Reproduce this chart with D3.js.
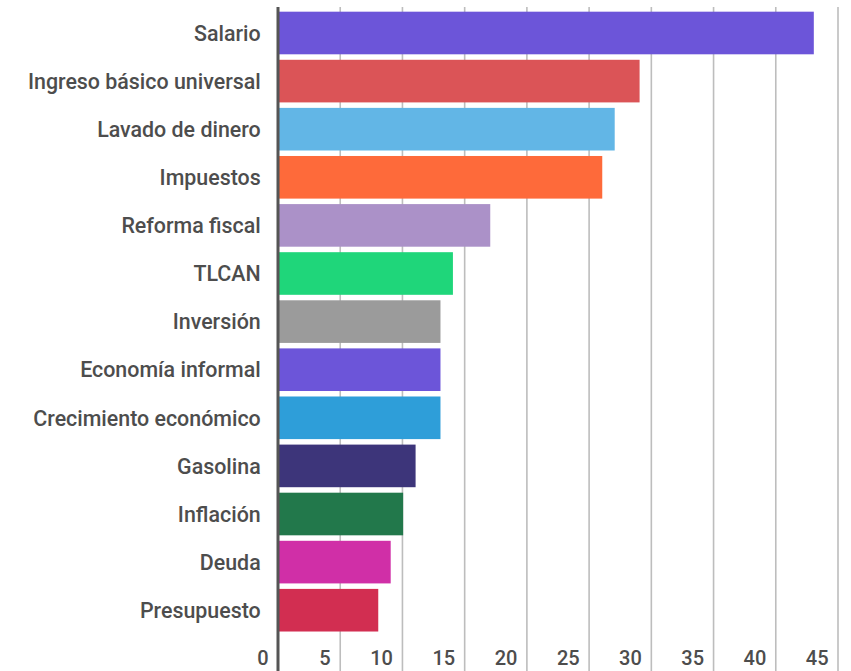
<!DOCTYPE html>
<html><head><meta charset="utf-8">
<script src="https://cdn.jsdelivr.net/npm/d3@7"></script>
<style>
html,body{margin:0;padding:0;background:#fff;}
svg{display:block;}
text{font-family:Roboto,"Noto Sans",sans-serif;}
</style></head>
<body>
<script>
const categories = ["Salario","Ingreso básico universal","Lavado de dinero","Impuestos","Reforma fiscal","TLCAN","Inversión","Economía informal","Crecimiento económico","Gasolina","Inflación","Deuda","Presupuesto"];
const values = [43,29,27,26,17,14,13,13,13,11,10,9,8];
const colors = ["#6c55d9","#db5457","#62b6e6","#fe6a3a","#ab91c8","#1fd67a","#9b9b9b","#6c55d9","#2e9ed9","#3d357a","#22784b","#d02fa7","#d22e51"];
const tickValues = [0,5,10,15,20,25,30,35,40,45];

const W = 851, H = 671;
const svg = d3.select("body").append("svg").attr("width", W).attr("height", H);

const x = d3.scaleLinear().domain([0,45]).range([278, 838]);
const y = d3.scaleBand().domain(categories).range([8.8, 634.4]).paddingInner(0.114).paddingOuter(0.06);

// grid lines
svg.append("g").selectAll("line").data(tickValues.slice(1)).join("line")
  .attr("x1", d => x(d)).attr("x2", d => x(d))
  .attr("y1", 7).attr("y2", H)
  .attr("stroke", "#bdbdbd").attr("stroke-width", 1.6);

// bars
svg.append("g").selectAll("rect").data(categories).join("rect")
  .attr("x", x(0))
  .attr("y", d => y(d))
  .attr("width", (d,i) => x(values[i]) - x(0) + 0.7)
  .attr("height", y.bandwidth())
  .attr("fill", (d,i) => colors[i]);

// axis line
svg.append("line").attr("x1", x(0)).attr("x2", x(0)).attr("y1", 7).attr("y2", H)
  .attr("stroke", "#555").attr("stroke-width", 3);

// category labels
svg.append("g").selectAll("text").data(categories).join("text")
  .attr("x", 260.7)
  .attr("y", d => y(d) + y.bandwidth()/2)
  .attr("dy", "0.36em")
  .attr("text-anchor", "end")
  .attr("font-size", 21.4)
  .attr("font-weight", 500)
  .attr("fill", "#4d4d4d")
  .text(d => d);

// tick labels
svg.append("g").selectAll("text").data(tickValues).join("text")
  .attr("x", d => x(d) - 9.5)
  .attr("y", 664.5)
  .attr("text-anchor", "end")
  .attr("font-size", 20)
  .attr("font-weight", 500)
  .attr("fill", "#4d4d4d")
  .text(d => d);
</script>
</body></html>
